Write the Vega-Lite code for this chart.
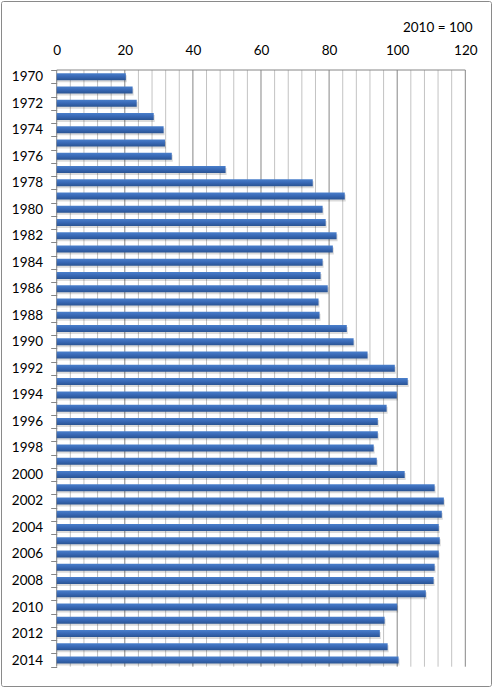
{
  "$schema": "https://vega.github.io/schema/vega-lite/v6.json",
  "width": 490,
  "height": 685,
  "autosize": "none",
  "padding": {"left": 1, "top": 1, "right": 3, "bottom": 2},
  "datasets": {
    "index": [
      {"year": 1970, "value": 20.3}, {"year": 1971, "value": 22.3}, {"year": 1972, "value": 23.5},
      {"year": 1973, "value": 28.5}, {"year": 1974, "value": 31.4}, {"year": 1975, "value": 31.8},
      {"year": 1976, "value": 33.8}, {"year": 1977, "value": 49.6}, {"year": 1978, "value": 75.2},
      {"year": 1979, "value": 84.6}, {"year": 1980, "value": 78.1}, {"year": 1981, "value": 79.0},
      {"year": 1982, "value": 82.2}, {"year": 1983, "value": 81.1}, {"year": 1984, "value": 78.1},
      {"year": 1985, "value": 77.5}, {"year": 1986, "value": 79.6}, {"year": 1987, "value": 76.9},
      {"year": 1988, "value": 77.2}, {"year": 1989, "value": 85.2}, {"year": 1990, "value": 87.2},
      {"year": 1991, "value": 91.3}, {"year": 1992, "value": 99.3}, {"year": 1993, "value": 103.1},
      {"year": 1994, "value": 99.9}, {"year": 1995, "value": 96.9}, {"year": 1996, "value": 94.3},
      {"year": 1997, "value": 94.3}, {"year": 1998, "value": 93.1}, {"year": 1999, "value": 94.0},
      {"year": 2000, "value": 102.2}, {"year": 2001, "value": 111.0}, {"year": 2002, "value": 113.7},
      {"year": 2003, "value": 113.1}, {"year": 2004, "value": 112.2}, {"year": 2005, "value": 112.5},
      {"year": 2006, "value": 112.2}, {"year": 2007, "value": 111.0}, {"year": 2008, "value": 110.7},
      {"year": 2009, "value": 108.4}, {"year": 2010, "value": 100.0}, {"year": 2011, "value": 96.3},
      {"year": 2012, "value": 94.9}, {"year": 2013, "value": 97.2}, {"year": 2014, "value": 100.4}
    ],
    "minorGrid": [
      {"v": 4}, {"v": 8}, {"v": 12}, {"v": 16}, {"v": 24}, {"v": 28}, {"v": 32}, {"v": 36},
      {"v": 44}, {"v": 48}, {"v": 52}, {"v": 56}, {"v": 64}, {"v": 68}, {"v": 72}, {"v": 76},
      {"v": 84}, {"v": 88}, {"v": 92}, {"v": 96}, {"v": 104}, {"v": 108}, {"v": 112}, {"v": 116}
    ],
    "majorGrid": [
      {"v": 0}, {"v": 20}, {"v": 40}, {"v": 60}, {"v": 80}, {"v": 100}, {"v": 120}
    ]
  },
  "resolve": {"axis": {"y": "independent"}},
  "layer": [
    {
      "data": {"name": "minorGrid"},
      "mark": {"type": "rule", "color": "#c3c3c3", "strokeWidth": 1},
      "encoding": {
        "x": {
          "field": "v",
          "type": "quantitative",
          "scale": {"domain": [-16.358, 127.548], "nice": false, "zero": false, "padding": 0},
          "axis": {
            "orient": "top",
            "offset": -69,
            "values": [0, 20, 40, 60, 80, 100, 120],
            "domain": false,
            "ticks": false,
            "tickSize": 0,
            "grid": false,
            "labelPadding": 13,
            "title": "2010 = 100",
            "titleAlign": "right",
            "titleAnchor": "end",
            "titleBaseline": "middle",
            "titleX": 471,
            "titleY": -43
          }
        },
        "y": {
          "datum": 1969.5,
          "type": "quantitative",
          "scale": {"domain": [1964.296, 2015.955], "reverse": true, "nice": false, "zero": false, "padding": 0},
          "axis": {
            "orient": "left",
            "offset": -55.7,
            "values": [1969.5, 1970.5, 1971.5, 1972.5, 1973.5, 1974.5, 1975.5, 1976.5, 1977.5, 1978.5, 1979.5, 1980.5, 1981.5, 1982.5, 1983.5, 1984.5, 1985.5, 1986.5, 1987.5, 1988.5, 1989.5, 1990.5, 1991.5, 1992.5, 1993.5, 1994.5, 1995.5, 1996.5, 1997.5, 1998.5, 1999.5, 2000.5, 2001.5, 2002.5, 2003.5, 2004.5, 2005.5, 2006.5, 2007.5, 2008.5, 2009.5, 2010.5, 2011.5, 2012.5, 2013.5, 2014.5],
            "labels": false,
            "domain": false,
            "grid": false,
            "tickSize": 6,
            "tickColor": "#868686",
            "title": null
          }
        },
        "y2": {"datum": 2014.5}
      }
    },
    {
      "data": {"name": "majorGrid"},
      "mark": {"type": "rule", "color": "#868686", "strokeWidth": 1},
      "encoding": {
        "x": {"field": "v", "type": "quantitative", "scale": {"domain": [-16.358, 127.548], "nice": false, "zero": false, "padding": 0}},
        "y": {"datum": 1969.5, "type": "quantitative", "scale": {"domain": [1964.296, 2015.955], "reverse": true, "nice": false, "zero": false, "padding": 0}, "axis": null},
        "y2": {"datum": 2014.5}
      }
    },
    {
      "data": {"values": [{}]},
      "mark": {"type": "rule", "color": "#868686", "strokeWidth": 1},
      "encoding": {
        "x": {"datum": 0, "type": "quantitative", "scale": {"domain": [-16.358, 127.548], "nice": false, "zero": false, "padding": 0}},
        "x2": {"datum": 120},
        "y": {"datum": 1969.5, "type": "quantitative", "scale": {"domain": [1964.296, 2015.955], "reverse": true, "nice": false, "zero": false, "padding": 0}, "axis": null}
      }
    },
    {
      "data": {"name": "index"},
      "mark": {"type": "bar", "orient": "horizontal", "size": 7, "color": "#000000", "opacity": 0.14, "xOffset": 1, "yOffset": 2},
      "encoding": {
        "x": {"field": "value", "type": "quantitative", "scale": {"domain": [-16.358, 127.548], "nice": false, "zero": false, "padding": 0}},
        "x2": {"datum": 0},
        "y": {"field": "year", "type": "quantitative", "scale": {"domain": [1964.296, 2015.955], "reverse": true, "nice": false, "zero": false, "padding": 0}, "axis": null}
      }
    },
    {
      "data": {"name": "index"},
      "mark": {
        "type": "bar",
        "orient": "horizontal",
        "size": 7,
        "color": {
          "gradient": "linear",
          "x1": 0, "y1": 0, "x2": 0, "y2": 1,
          "stops": [
            {"offset": 0, "color": "#4a7fcb"},
            {"offset": 0.5, "color": "#3868b5"},
            {"offset": 1, "color": "#2a5493"}
          ]
        }
      },
      "encoding": {
        "x": {"field": "value", "type": "quantitative", "scale": {"domain": [-16.358, 127.548], "nice": false, "zero": false, "padding": 0}},
        "x2": {"datum": 0},
        "y": {
          "field": "year",
          "type": "quantitative",
          "scale": {"domain": [1964.296, 2015.955], "reverse": true, "nice": false, "zero": false, "padding": 0},
          "axis": {
            "orient": "left",
            "offset": -55.7,
            "values": [1970, 1972, 1974, 1976, 1978, 1980, 1982, 1984, 1986, 1988, 1990, 1992, 1994, 1996, 1998, 2000, 2002, 2004, 2006, 2008, 2010, 2012, 2014],
            "format": "d",
            "ticks": false,
            "tickSize": 0,
            "labelPadding": 14,
            "labelOverlap": false,
            "labelBound": false,
            "labelFlush": false,
            "domain": false,
            "grid": false,
            "title": null
          }
        }
      }
    }
  ],
  "config": {
    "font": "Lato",
    "view": {"stroke": "#8a8a8a", "strokeWidth": 1, "cornerRadius": 2},
    "axis": {
      "labelFont": "Lato",
      "labelFontSize": 13.5,
      "labelColor": "#000000",
      "titleFont": "Lato",
      "titleFontSize": 13.5,
      "titleFontWeight": "normal",
      "titleColor": "#000000"
    }
  }
}
